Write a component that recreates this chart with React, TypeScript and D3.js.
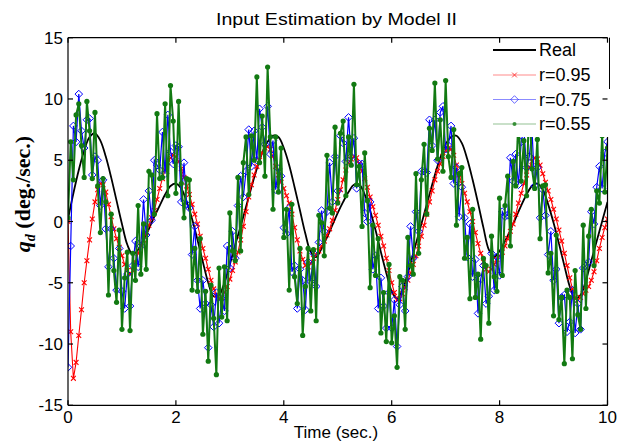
import React from "react";
import * as d3 from "d3";

const W = 619;
const H = 443;
const margin = { left: 68, right: 11.5, top: 37.7, bottom: 37.7 };

// time grids: real signal every 0.1 s, estimates every 0.05 s
const REAL_DT = 0.1;
const EST_DT = 0.05;

const realValues = [
  0.2, 2.3, 4.2, 5.8, 6.9, 7.2, 6.6, 5.3, 3.6, 1.7,
  -0.2, -1.9, -2.7, -2.3, -1.5, -0.6, 0.4, 1.3, 2.2, 2.9,
  3.1, 2.7, 1.6, 0.2, -1.5, -3.3, -5.0, -6.1, -6.0, -5.0,
  -3.5, -1.9, -0.4, 1.2, 2.8, 4.3, 5.6, 6.5, 7.0, 6.9,
  6.0, 4.6, 2.8, 0.9, -1.0, -2.5, -2.9, -2.2, -1.3, -0.3,
  0.7, 1.6, 2.4, 3.0, 3.0, 2.2, 0.9, -0.7, -2.5, -4.2,
  -5.7, -6.3, -5.6, -4.2, -2.6, -1.0, 0.6, 2.2, 3.8, 5.2,
  6.3, 6.9, 7.0, 6.4, 5.1, 3.4, 1.5, -0.5, -2.3, -2.9,
  -2.4, -1.6, -0.7, 0.3, 1.3, 2.2, 2.9, 3.1, 2.6, 1.4,
  -0.1, -1.8, -3.6, -5.3, -6.3, -6.0, -4.8, -3.2, -1.6, 0.0,
  1.6,
];

const r095Values = [
  0.0, -9.0, -12.8, -11.5, -9.3, -7.2, -5.0, -3.2, -1.5, 0.2,
  1.6, 2.6, 3.1, 3.0, 2.4, 1.4, 0.4, -0.6, -1.4, -2.1,
  -2.8, -3.5, -4.0, -4.3, -4.0, -3.3, -2.6, -2.0, -1.5, -0.9,
  -0.3, 0.3, 0.9, 1.8, 2.7, 3.5, 4.2, 4.8, 5.2, 5.4,
  5.3, 4.9, 4.3, 3.6, 2.9, 2.2, 1.4, 0.6, -0.2, -1.2,
  -2.2, -3.0, -3.9, -4.8, -5.5, -6.0, -6.3, -6.2, -5.8, -5.3,
  -4.7, -4.0, -3.3, -2.5, -1.5, -0.4, 0.8, 2.0, 3.0, 3.8,
  4.5, 5.0, 5.6, 6.0, 6.1, 5.9, 5.3, 4.5, 3.8, 3.2,
  2.7, 2.1, 1.5, 0.6, -0.5, -1.5, -2.4, -3.1, -3.6, -3.7,
  -3.4, -3.0, -2.7, -2.4, -2.0, -1.6, -1.1, -0.6, 0.1, 0.9,
  1.8, 2.6, 3.4, 4.2, 4.8, 5.1, 5.3, 5.2, 4.7, 4.1,
  3.5, 2.8, 2.0, 1.2, 0.5, -0.3, -1.2, -2.0, -3.0, -4.0,
  -5.0, -5.8, -6.4, -6.3, -5.9, -5.4, -4.8, -4.2, -3.5, -2.8,
  -2.0, -1.2, -0.3, 0.6, 1.6, 2.5, 3.4, 4.1, 4.7, 5.3,
  5.8, 6.0, 5.9, 5.4, 4.6, 3.8, 3.1, 2.3, 1.6, 0.8,
  0.0, -0.9, -1.8, -2.6, -3.3, -3.9, -4.1, -3.9, -3.5, -3.1,
  -2.8, -2.5, -2.0, -1.4, -0.8, -0.2, 0.6, 1.5, 2.3, 3.1,
  3.8, 4.4, 4.9, 5.2, 5.1, 4.6, 3.9, 3.2, 2.5, 1.8,
  1.0, 0.2, -0.7, -1.6, -2.6, -3.6, -4.6, -5.5, -6.2, -6.4,
  -6.2, -5.9, -5.6, -5.3, -4.8, -4.1, -3.2, -2.2, -1.3, -0.5,
  0.2,
];

const r075Values = [
  -11.9, -2.0, 7.8, 6.5, 10.4, 7.4, 6.0, 8.3, 8.4, 3.8,
  5.3, 5.0, 1.3, 3.4, -0.6, -3.7, -0.6, -3.0, -5.6, -2.2,
  -5.7, -7.1, -4.3, -6.9, -3.6, -1.6, -3.7, -2.0, 1.8, -1.1,
  2.5, 0.1, 5.0, 4.6, 4.2, 7.3, 3.9, 8.7, 5.7, 4.7,
  6.2, 6.1, 1.6, 4.8, 1.4, 1.1, -2.7, -0.4, -4.8, -7.1,
  -4.8, -6.7, -10.3, -6.8, -8.6, -5.8, -8.3, -6.3, -7.3, -2.0,
  -3.8, -0.8, -3.0, 1.3, 3.7, 2.0, 4.1, 7.5, 4.5, 7.4,
  5.0, 9.2, 7.7, 6.3, 9.4, 5.5, 6.6, 2.6, 4.3, 3.7,
  -0.5, -1.0, 1.1, -4.1, -3.6, -7.1, -3.9, -4.8, -7.2, -3.3,
  -4.9, -2.6, -5.3, -1.7, 0.9, -0.8, 0.8, 4.8, 1.6, 5.3,
  2.5, 7.0, 6.4, 4.9, 8.5, 5.3, 6.8, 2.7, 4.7, 4.7,
  0.7, 0.0, 1.6, -3.9, -2.8, -7.1, -4.6, -6.9, -8.7, -5.8,
  -8.7, -6.4, -10.2, -6.8, -5.3, -7.3, -4.5, -0.4, -3.0, 0.8,
  -0.8, 4.1, 4.1, 4.0, 8.3, 6.2, 8.3, 5.0, 8.9, 9.4,
  5.9, 6.2, 7.8, 3.1, 4.4, 0.4, 2.8, 0.3, -2.9, -0.2,
  -4.5, -3.1, -7.5, -4.7, -3.6, -6.7, -6.1, -2.6, -5.6, -2.9,
  -4.4, 0.8, 0.4, 0.5, 5.2, 3.3, 5.5, 3.0, 6.5, 7.5,
  4.4, 5.3, 7.5, 2.9, 4.4, 0.3, 2.6, 0.5, -2.7, -0.8,
  -4.8, -3.9, -8.3, -6.2, -6.0, -9.0, -8.2, -5.6, -9.1, -6.7,
  -8.8, -3.8, -3.6, -3.3, 0.8, -0.2, 2.8, 4.5, 2.7, 5.6,
  6.5,
];

const r055Values = [
  0.3, 6.5, 3.4, 8.7, 9.6, 6.2, 3.6, 9.8, 7.4, 3.5,
  8.9, 2.9, -0.9, 3.5, 1.6, -6.0, 0.6, -4.0, -6.6, -0.7,
  -8.8, -4.6, -2.5, -8.9, -2.6, -4.8, 1.3, -4.3, -0.2, -3.9,
  4.1, 3.8, 0.6, 8.8, 3.5, 3.6, 9.6, 2.1, 11.1, 8.2,
  2.3, 9.8, 3.1, 0.3, 3.5, 3.4, -5.6, -2.2, -5.7, -1.4,
  -9.2, -5.7, -11.4, -5.2, -7.9, -12.5, -3.8, -7.8, -3.7, -8.1,
  0.7, -2.4, -3.2, 3.6, -2.4, 4.8, 6.9, 2.2, 7.0, 5.0,
  11.8, 4.8, 8.6, 3.7, 12.6, 6.9, 1.0, 6.9, 2.4, 6.0,
  -1.3, 1.0, -5.6, 1.4, -4.5, -6.7, -2.2, -9.3, -5.3, -2.2,
  -7.3, -2.3, -8.1, 0.5, -0.1, -2.8, 5.4, 1.1, 0.7, 7.7,
  1.5, 7.2, 8.2, 2.1, 6.9, 4.6, 11.2, 3.0, 4.5, -0.4,
  5.6, 1.7, -5.4, -0.3, -4.4, -1.4, -9.1, -5.8, -9.8, -3.5,
  -9.9, -7.7, -11.9, -4.5, -4.8, -8.8, -1.3, -3.6, -4.3, 3.9,
  -2.6, 3.4, 6.3, 0.6, 7.6, 5.8, 11.3, 5.1, 8.3, 4.1,
  11.5, 5.3, 3.6, 7.5, -0.3, 3.9, 4.4, -3.0, -1.3, -6.3,
  1.0, -6.2, -4.3, -9.6, -3.0, -3.6, -8.3, -1.2, -4.5, -5.7,
  1.9, -4.4, 1.3, 3.7, -2.0, 4.9, 2.9, 8.6, 3.3, 6.6,
  2.1, 10.3, 4.3, 2.7, 6.7, -1.4, 2.9, 3.0, -4.2, -2.6,
  -7.7, -1.1, -8.0, -6.2, -11.6, -5.6, -6.2, -11.2, -4.0, -7.6,
  -8.8, -0.3, -7.1, -1.2, 1.0, -3.6, 2.5, 1.5, 7.0, 2.4,
  6.0,
];

const xTicks = [0, 2, 4, 6, 8, 10];
const yTicks = [-15, -10, -5, 0, 5, 10, 15];
const legendLabels = ["Real", "r=0.95", "r=0.75", "r=0.55"];

const RED = "#ff0000";
const BLUE = "#0000ff";
const GREEN = "#127a12";
const SANS = "'Liberation Sans', Arial, sans-serif";

type Pt = [number, number];

const toPts = (vals: number[], dt: number): Pt[] =>
  vals.map((v, i) => [i * dt, v]);

export default function App() {
  const x = d3
    .scaleLinear()
    .domain([0, 10])
    .range([margin.left, W - margin.right]);
  const y = d3
    .scaleLinear()
    .domain([-15, 15])
    .range([H - margin.bottom, margin.top]);

  const smooth = d3
    .line<Pt>()
    .x((d) => x(d[0]))
    .y((d) => y(d[1]))
    .curve(d3.curveCatmullRom);
  const straight = d3
    .line<Pt>()
    .x((d) => x(d[0]))
    .y((d) => y(d[1]));

  const real = toPts(realValues, REAL_DT);
  const red = toPts(r095Values, EST_DT);
  const blue = toPts(r075Values, EST_DT);
  const green = toPts(r055Values, EST_DT);

  const [x0, x1] = x.range();
  const [yb, yt] = y.range();

  const cross = "M-2.4,-2.4L2.4,2.4M-2.4,2.4L2.4,-2.4";
  const diamond = "M0,-3.8L3.8,0L0,3.8L-3.8,0Z";

  const legX0 = 493;
  const legX1 = 536;
  const legMid = (legX0 + legX1) / 2;
  const legY = [50, 75, 99.5, 124];

  return (
    <div style={{ position: "fixed", left: 0, top: 0 }}>
      <svg width={W} height={H} style={{ display: "block", background: "#fff" }}>
        <defs>
          <clipPath id="plot">
            <rect x={x0} y={yt} width={x1 - x0} height={yb - yt} />
          </clipPath>
        </defs>
        <rect width={W} height={H} fill="#fff" />

        <g clipPath="url(#plot)">
          <path d={smooth(real) ?? ""} fill="none" stroke="#000" strokeWidth={1.8} />

          <path d={straight(red) ?? ""} fill="none" stroke={RED} strokeWidth={1.1} />
          {red.map((d, i) => (
            <path key={i} d={cross} transform={`translate(${x(d[0])},${y(d[1])})`} stroke={RED} strokeWidth={1.1} fill="none" />
          ))}

          <path d={straight(blue) ?? ""} fill="none" stroke={BLUE} strokeWidth={1.2} />
          {blue.map((d, i) => (
            <path key={i} d={diamond} transform={`translate(${x(d[0])},${y(d[1])})`} stroke={BLUE} strokeWidth={1} fill="none" />
          ))}

          <path d={straight(green) ?? ""} fill="none" stroke={GREEN} strokeWidth={2} />
          {green.map((d, i) => (
            <circle key={i} cx={x(d[0])} cy={y(d[1])} r={2.6} fill={GREEN} />
          ))}
        </g>

        {/* legend */}
        <rect x={485} y={yt} width={x1 - 485 + 2} height={137 - yt} fill="#fff" />
        <line x1={609.5} x2={609.5} y1={yt} y2={89} stroke="#000" strokeWidth={1} />
        {legendLabels.map((label, i) => {
          const ly = legY[i];
          const color = ["#000", RED, BLUE, GREEN][i];
          return (
            <g key={label}>
              <line x1={legX0} x2={legX1} y1={ly} y2={ly} stroke={color} strokeWidth={i === 0 ? 1.8 : 1.2} opacity={i === 0 ? 1 : 0.45} />
              {i === 1 && <path d={cross} transform={`translate(${legMid},${ly})`} stroke={RED} strokeWidth={1} opacity={0.7} />}
              {i === 2 && <path d={diamond} transform={`translate(${legMid},${ly})`} stroke={BLUE} fill="none" opacity={0.6} />}
              {i === 3 && <circle cx={legMid} cy={ly} r={2} fill={GREEN} opacity={0.8} />}
              <text x={539} y={ly} dy="0.36em" fontFamily={SANS} fontSize={18} fill="#000">
                {label}
              </text>
            </g>
          );
        })}

        {/* axes box */}
        <g stroke="#000" strokeWidth={1.2} fill="none">
          <line x1={x0} x2={x1} y1={yb} y2={yb} />
          <line x1={x0} x2={x1} y1={yt} y2={yt} />
          <line x1={x0} x2={x0} y1={yt} y2={yb} />
          <line x1={x1} x2={x1} y1={137} y2={yb} />
          {xTicks.map((t) => (
            <g key={t}>
              <line x1={x(t)} x2={x(t)} y1={yb} y2={yb - 5} />
              <line x1={x(t)} x2={x(t)} y1={yt} y2={yt + 5} />
            </g>
          ))}
          {yTicks.map((t) => (
            <g key={t}>
              <line x1={x0} x2={x0 + 5} y1={y(t)} y2={y(t)} />
              <line x1={x1} x2={x1 - 5} y1={y(t)} y2={y(t)} />
            </g>
          ))}
        </g>

        {xTicks.map((t) => (
          <text key={t} x={x(t)} y={423} textAnchor="middle" fontFamily={SANS} fontSize={17} fill="#000">
            {t}
          </text>
        ))}
        {yTicks.map((t) => (
          <text key={t} x={63} y={y(t)} dy="0.36em" textAnchor="end" fontFamily={SANS} fontSize={17} fill="#000">
            {t}
          </text>
        ))}

        <text x={336.5} y={25} textAnchor="middle" fontFamily={SANS} fontSize={16} textLength={241} lengthAdjust="spacingAndGlyphs" fill="#000">
          Input Estimation by Model II
        </text>
        <text x={336} y={438} textAnchor="middle" fontFamily={SANS} fontSize={17} fill="#000">
          Time (sec.)
        </text>
        <text
          transform="translate(30,194) rotate(-90)"
          textAnchor="middle"
          fontFamily="'Liberation Serif', 'Times New Roman', serif"
          fontWeight="bold"
          fontSize={22}
          fill="#000"
        >
          <tspan fontStyle="italic">q</tspan>
          <tspan fontStyle="italic" fontSize={14} dy={5}>d</tspan>
          <tspan dy={-5}> (deg./sec.)</tspan>
        </text>
      </svg>
    </div>
  );
}
